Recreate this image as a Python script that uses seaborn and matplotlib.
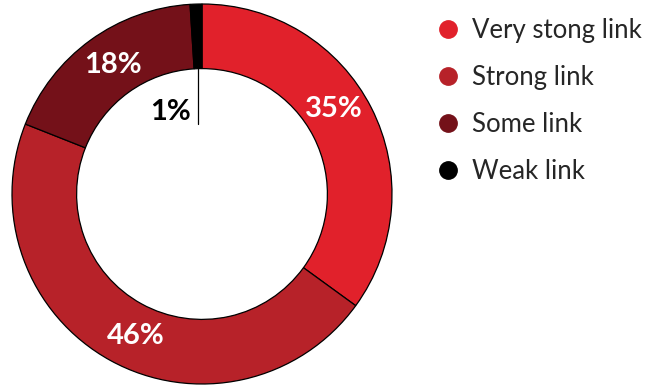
import matplotlib
matplotlib.use("Agg")
import matplotlib.pyplot as plt
from matplotlib.lines import Line2D
import numpy as np
import seaborn as sns

# Share of respondents by strength of link
categories = ["Very stong link", "Strong link", "Some link", "Weak link"]
shares = [35, 46, 18, 1]
colors = ["#E1212B", "#B72229", "#741119", "#000000"]

# angular nudge (degrees) applied to each percentage label
label_nudge = [6.0, 3.7, -1.5, 0.0]

sns.set_theme(style="white")
plt.rcParams["font.family"] = ["Lato", "DejaVu Sans"]

W, H = 651, 385
fig = plt.figure(figsize=(W / 100, H / 100), dpi=100)
cx, cy, r = 202, 194, 190
ax = fig.add_axes([(cx - r) / W, (H - cy - r) / H, 2 * r / W, 2 * r / H])

wedges, _ = ax.pie(
    shares,
    colors=sns.color_palette(colors),
    startangle=90,
    counterclock=False,
    radius=1.0,
    wedgeprops=dict(width=0.34, edgecolor="black", linewidth=0.9),
)
ax.set_xlim(-1, 1)
ax.set_ylim(-1, 1)
ax.set_aspect("equal")
ax.axis("off")

# Percentage labels placed along the middle of each ring segment
for w, v, dn in zip(wedges, shares, label_nudge):
    mid = np.deg2rad((w.theta1 + w.theta2) / 2 + dn)
    if v >= 5:
        ax.text(0.825 * np.cos(mid), 0.825 * np.sin(mid), f"{v}%",
                ha="center", va="center", color="white",
                fontsize=21, fontweight="bold")
    else:
        # small slice: label inside the hole with a leader line
        x0 = 0.66 * np.cos(mid)
        y0 = 0.66 * np.sin(mid)
        ax.plot([x0, x0], [y0, 0.37], color="black", linewidth=0.9)
        ax.text(x0 - 0.04, 0.43, f"{v}%", ha="right", va="center",
                color="black", fontsize=21, fontweight="bold")

handles = [Line2D([0], [0], marker="o", linestyle="none", markersize=12.5,
                  markerfacecolor=c, markeredgecolor=c) for c in colors]
fig.legend(handles, categories, loc="upper left",
           bbox_to_anchor=(424 / W, 1 - 8 / H), frameon=False,
           fontsize=18.5, handletextpad=0.35, labelspacing=0.85,
           handlelength=1.1, borderaxespad=0)

fig.savefig("out.png", dpi=100)
